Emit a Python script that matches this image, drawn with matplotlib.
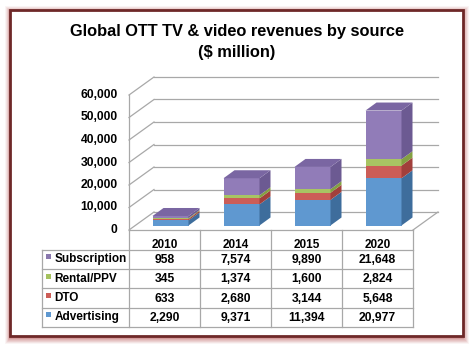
import numpy as np
import matplotlib
matplotlib.use("Agg")
import matplotlib.pyplot as plt
from matplotlib.patches import Rectangle, Polygon

plt.rcParams["font.family"] = ["Liberation Sans", "DejaVu Sans"]

# ── Data ───────────────────────────────────────────────────────
years        = ["2010", "2014", "2015", "2020"]
advertising  = [2290, 9371, 11394, 20977]
dto          = [633, 2680, 3144, 5648]
rental       = [345, 1374, 1600, 2824]
subscription = [958, 7574, 9890, 21648]
y_ticks      = [0, 10000, 20000, 30000, 40000, 50000, 60000]

# stacking order bottom -> top
stack  = [("Advertising", advertising), ("DTO", dto),
          ("Rental/PPV", rental), ("Subscription", subscription)]
# table order top -> bottom
table_rows = [("Subscription", subscription), ("Rental/PPV", rental),
              ("DTO", dto), ("Advertising", advertising)]

# front, side, top face colours
colors = {
    "Advertising":  ("#5F98D0", "#3E6D9C", "#4F82B8"),
    "DTO":          ("#CC5D57", "#A13F3B", "#B04A46"),
    "Rental/PPV":   ("#A8C463", "#84A042", "#95B052"),
    "Subscription": ("#917CB8", "#6C5A92", "#7A66A2"),
}
legend_col = {"Subscription": "#8A78AE", "Rental/PPV": "#A5C25F",
              "DTO": "#CC5D57", "Advertising": "#5F98D0"}

W, H = 474, 347
fig = plt.figure(figsize=(W / 100, H / 100), dpi=100)

bg = fig.add_axes([0, 0, 1, 1])
bg.set_xlim(0, W)
bg.set_ylim(H, 0)
bg.axis("off")

# ── Frame with soft glow ───────────────────────────────────────
for k, a in zip(range(6, 0, -1), [0.06, 0.08, 0.10, 0.13, 0.16, 0.2]):
    bg.add_patch(Rectangle((10.5, 10.5), 453, 327, fill=False,
                           edgecolor="#B04848", lw=k * 1.3, alpha=a, zorder=1))
bg.add_patch(Rectangle((10, 10), 453, 326, facecolor="white",
                       edgecolor="#6E2828", lw=2.0, zorder=2))

bg.text(237, 31, "Global OTT TV & video revenues by source", ha="center",
        va="center", fontsize=11.8, fontweight="bold", zorder=3)
bg.text(237, 52, "($ million)", ha="center", va="center",
        fontsize=11.8, fontweight="bold", zorder=3)

# ── Plot area (front plane of the floor) ───────────────────────
x0, x1, y_floor, y_top = 129, 413, 230, 95
ax = fig.add_axes([x0 / W, (H - y_floor) / H, (x1 - x0) / W, (y_floor - y_top) / H])
ax.set_xlim(-0.5, len(years) - 0.5)
ax.set_ylim(0, 60000)
ax.axis("off")
ax.patch.set_alpha(0)

sx = (x1 - x0) / len(years)         # px per category
sy = (y_floor - y_top) / 60000      # px per value unit
def off(dx_px, dy_px):
    return dx_px / sx, dy_px / sy

grid_c = "#A8A8A8"
wx, wy = off(25, 18)      # wall depth
bx, by = off(6, 4.5)      # bar front plane
dx, dy = off(11, 8)       # bar depth
xl, xr = -0.5, len(years) - 0.5

for v in y_ticks:
    ax.plot([xl + wx, xr + wx], [v + wy, v + wy], color=grid_c, lw=0.9,
            zorder=1, clip_on=False)
    ax.plot([xl, xl + wx], [v, v + wy], color=grid_c, lw=0.9,
            zorder=1, clip_on=False)
    ax.text(-0.66, v, f"{v:,}", ha="right", va="center", fontsize=8.7,
            fontweight="bold")
ax.plot([xl, xl], [0, 60000], color=grid_c, lw=0.9, zorder=1, clip_on=False)
ax.plot([xl, xr], [0, 0], color=grid_c, lw=0.9, zorder=1, clip_on=False)
ax.plot([xr, xr + wx], [0, wy], color=grid_c, lw=0.9, zorder=1, clip_on=False)

# ── Bars ───────────────────────────────────────────────────────
w = 36 / sx
for i in range(len(years)):
    bottom = by
    left = i + bx - w / 2
    right = left + w
    for j, (name, vals) in enumerate(stack):
        h = vals[i]
        fc, sc, tc = colors[name]
        ax.add_patch(Rectangle((left, bottom), w, h, facecolor=fc,
                               edgecolor="none", zorder=3, clip_on=False))
        ax.add_patch(Polygon([(right, bottom), (right + dx, bottom + dy),
                              (right + dx, bottom + h + dy), (right, bottom + h)],
                             closed=True, facecolor=sc, edgecolor="none",
                             zorder=3, clip_on=False))
        bottom += h
        if j == len(stack) - 1:
            ax.add_patch(Polygon([(left, bottom), (right, bottom),
                                  (right + dx, bottom + dy), (left + dx, bottom + dy)],
                                 closed=True, facecolor=tc, edgecolor="none",
                                 zorder=3, clip_on=False))

# ── Data table ─────────────────────────────────────────────────
row_top, row_h, tab_left = 249.5, 19.4, 42
col_edges = [x0 + sx * k for k in range(len(years) + 1)]
for xe in col_edges:
    bg.plot([xe, xe], [y_floor, row_top + row_h * len(table_rows)],
            color=grid_c, lw=0.9, zorder=3)
bg.plot([tab_left, tab_left], [row_top, row_top + row_h * len(table_rows)],
        color=grid_c, lw=0.9, zorder=3)
for r in range(len(table_rows) + 1):
    yy = row_top + r * row_h
    bg.plot([tab_left, x1], [yy, yy], color=grid_c, lw=0.9, zorder=3)

for i, yr in enumerate(years):
    bg.text(x0 + sx * (i + 0.5), 244.5, yr, ha="center", va="center",
            fontsize=8.5, fontweight="bold", zorder=4)

for r, (name, vals) in enumerate(table_rows):
    yc = row_top + row_h * (r + 0.5)
    bg.add_patch(Rectangle((46.5, yc - 5), 5, 5, facecolor=legend_col[name],
                           edgecolor="none", zorder=4))
    bg.text(54.5, yc, name, ha="left", va="center", fontsize=8.5,
            fontweight="bold", zorder=4)
    for i, v in enumerate(vals):
        bg.text(x0 + sx * (i + 0.5), yc + 0.5, f"{v:,}", ha="center",
                va="center", fontsize=8.7, fontweight="bold", zorder=4)

fig.savefig("out.png", dpi=100)
